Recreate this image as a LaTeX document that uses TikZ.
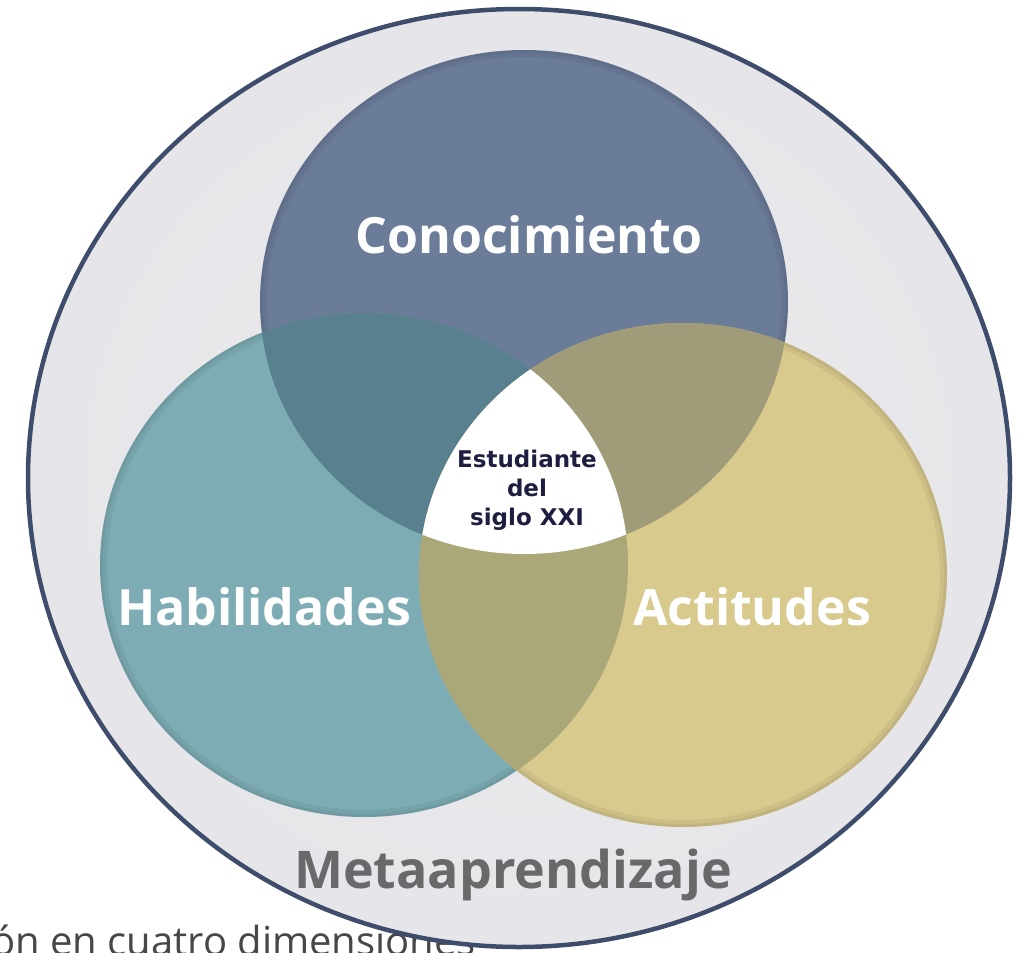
\documentclass[tikz,border=0pt]{standalone}
\usepackage{fontspec}
\setmainfont{Open Sans}
\newfontfamily\centrefont{DejaVu Sans}
\definecolor{rimblue}{HTML}{3E4D6C}
\definecolor{ringlight}{HTML}{ECECEF}
\definecolor{ringgray}{HTML}{E3E3E7}
\definecolor{ringshadow}{HTML}{D4D4D9}
\definecolor{knowblue}{HTML}{6B7C99}
\definecolor{skillteal}{HTML}{7DACB4}
\definecolor{attsand}{HTML}{D8C98D}
\definecolor{knowskill}{HTML}{58808E}
\definecolor{knowatt}{HTML}{A09B78}
\definecolor{skillatt}{HTML}{AAA878}
\definecolor{metagray}{HTML}{69696B}
\definecolor{centrenavy}{HTML}{1E1E40}
\pgfdeclareradialshading{ringshade}{\pgfpointorigin}{color(0bp)=(ringlight); color(36bp)=(ringgray); color(47bp)=(ringshadow); color(49.4bp)=(white); color(100bp)=(white)}
\begin{document}
\begin{tikzpicture}[x=1pt,y=-1pt,
		set/.style={x radius=264pt,y radius=252pt},
		setname/.style={anchor=base,text=white,font=\bfseries\fontsize{50}{50}\selectfont},
		rim/.style={black,opacity=0.05,line width=14pt}
	]
	\useasboundingbox (0,0) rectangle (1018,953);
	\clip (0,0) rectangle (1018,953);
	% caption of the page, cut at the bottom
	\node[anchor=base west,inner sep=0,text=black!72,font=\fontsize{40}{40}\selectfont] (caption) at (-9,955) {ón en cuatro dimensiones};
	% outer disc
	\coordinate (ring) at (519,478);
	\shade[shading=ringshade] (ring) ellipse [x radius=491pt,y radius=469pt];
	\draw[rimblue,line width=4.5pt] (ring) ellipse [x radius=491pt,y radius=469pt];
	% the three sets, each with a soft edge
	\coordinate (kn) at (524,302);
	\coordinate (sk) at (364,565);
	\coordinate (at) at (683,575);
	\foreach \c/\col in {kn/knowblue,sk/skillteal,at/attsand}{
		\fill[\col] (\c) ellipse [set];
		\begin{scope}
			\clip (\c) ellipse [set];
			\draw[rim] (\c) ellipse [set];
			\draw[rim,line width=6pt] (\c) ellipse [set];
		\end{scope}
	}
	\begin{scope}
		\clip (kn) ellipse [set];
		\fill[knowskill] (sk) ellipse [set];
		\fill[knowatt] (at) ellipse [set];
	\end{scope}
	\begin{scope}
		\clip (sk) ellipse [set];
		\fill[skillatt] (at) ellipse [set];
		\clip (at) ellipse [set];
		\fill[white] (kn) ellipse [set];
	\end{scope}
	% labels
	\node[setname] (kntext) at (529,253) {Conocimiento};
	\node[setname] (sktext) at (264,625) {Habilidades};
	\node[setname] (attext) at (752,625) {Actitudes};
	\node[setname,text=metagray,font=\bfseries\fontsize{52}{52}\selectfont] (metatext) at (513,888) {Metaaprendizaje};
	\node[align=center,inner sep=0,text=centrenavy,font=\centrefont\bfseries\fontsize{23}{29}\selectfont] (student) at (527,490) {Estudiante\\del\\siglo XXI};
\end{tikzpicture}
\end{document}
